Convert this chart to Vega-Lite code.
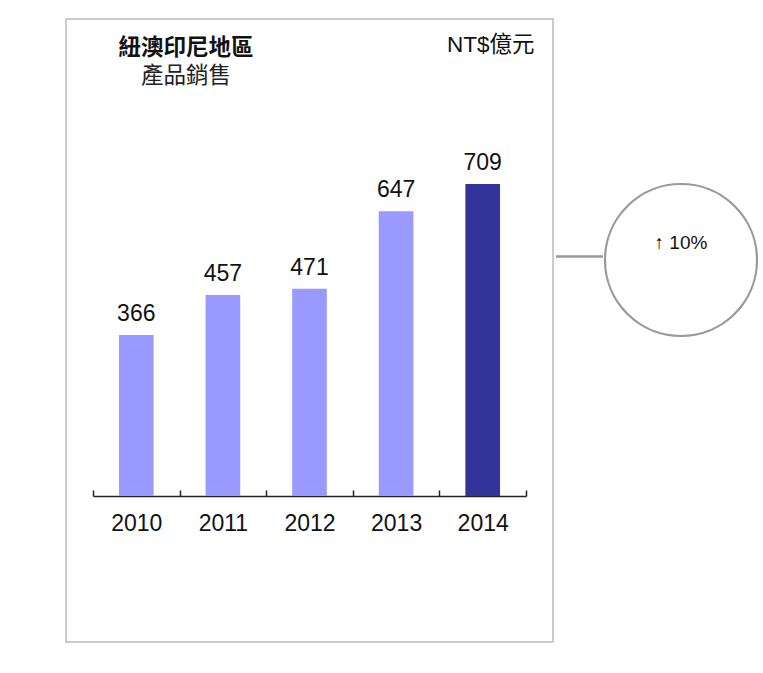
{
  "$schema": "https://vega.github.io/schema/vega-lite/v6.json",
  "background": "white",
  "padding": {"left": 65, "top": 18, "right": 0, "bottom": 0},
  "spacing": 3,
  "bounds": "flush",
  "config": {
    "view": {"stroke": null},
    "font": "Liberation Sans, Noto Sans CJK TC"
  },
  "hconcat": [
    {
      "width": 487,
      "height": 623,
      "view": {"stroke": "#bcbcbc", "strokeWidth": 1.5},
      "title": {
        "text": "紐澳印尼地區",
        "subtitle": "產品銷售",
        "anchor": "start",
        "frame": "group",
        "align": "center",
        "dx": 120,
        "dy": 72,
        "fontSize": 22.5,
        "fontWeight": "bold",
        "color": "#111",
        "subtitleFontSize": 22.5,
        "subtitleColor": "#222",
        "subtitlePadding": 5
      },
      "data": {
        "values": [
          {"year": "2010", "sales": 366},
          {"year": "2011", "sales": 457},
          {"year": "2012", "sales": 471},
          {"year": "2013", "sales": 647},
          {"year": "2014", "sales": 709}
        ]
      },
      "encoding": {
        "x": {
          "field": "year",
          "type": "nominal",
          "scale": {"range": [27, 460], "paddingInner": 0, "paddingOuter": 0},
          "axis": {
            "orient": "bottom",
            "offset": -146,
            "title": null,
            "grid": false,
            "labelAngle": 0,
            "tickBand": "extent",
            "tickSize": -6,
            "tickWidth": 1.5,
            "tickColor": "#222",
            "domainColor": "#222",
            "domainWidth": 1.5,
            "labelPadding": 40,
            "labelBaseline": "alphabetic",
            "labelFontSize": 23,
            "labelColor": "#111"
          }
        },
        "y": {
          "field": "sales",
          "type": "quantitative",
          "scale": {"domain": [0, 709], "range": [477, 165]},
          "axis": {
            "orient": "right",
            "title": "NT$億元",
            "grid": false,
            "domain": false,
            "ticks": false,
            "labels": false,
            "titleAngle": 0,
            "titleAlign": "right",
            "titleBaseline": "middle",
            "titleX": -19,
            "titleY": 25,
            "titleFontSize": 22.5,
            "titleFontWeight": "normal",
            "titleColor": "#111"
          }
        }
      },
      "layer": [
        {
          "mark": {"type": "bar", "width": {"band": 0.4}},
          "encoding": {
            "color": {
              "condition": {"test": "datum.year == '2014'", "value": "#333399"},
              "value": "#9999ff"
            }
          }
        },
        {
          "mark": {"type": "text", "baseline": "alphabetic", "dy": -14, "fontSize": 23, "color": "#111"},
          "encoding": {"text": {"field": "sales", "type": "quantitative"}}
        }
      ]
    },
    {
      "width": 47,
      "height": 475,
      "data": {"values": [{"change": "↑ 10%"}]},
      "mark": {"type": "rule", "stroke": "#999999", "strokeWidth": 2.3},
      "encoding": {
        "y": {"datum": 0, "type": "quantitative", "scale": {"domain": [-1, 1]}, "axis": null}
      }
    },
    {
      "width": 150,
      "height": 482,
      "data": {"values": [{"change": "↑ 10%"}]},
      "layer": [
        {
          "mark": {"type": "point", "shape": "circle", "size": 23104, "filled": false, "stroke": "#999999", "strokeWidth": 2.2, "opacity": 1},
          "encoding": {}
        },
        {
          "mark": {"type": "text", "dy": -17, "fontSize": 19, "color": "#111"},
          "encoding": {"text": {"field": "change", "type": "nominal"}}
        }
      ]
    }
  ]
}
